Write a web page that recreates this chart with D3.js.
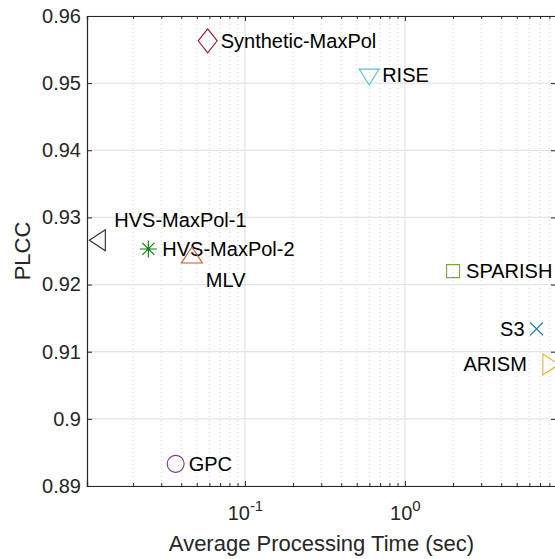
<!DOCTYPE html>
<html>
<head>
<meta charset="utf-8">
<script src="https://cdn.jsdelivr.net/npm/d3@7"></script>
<style>
  body { margin: 0; background: #fff; }
  svg { display: block; }
  text { font-family: "Liberation Sans", Arial, Helvetica, sans-serif; fill: #262626; }
</style>
</head>
<body>
<svg id="chart" width="555" height="559"></svg>
<script>
// data
var methods = ["Synthetic-MaxPol", "RISE", "SPARISH", "S3", "ARISM", "HVS-MaxPol-1", "HVS-MaxPol-2", "MLV", "GPC"];
var times = [0.0585, 0.598, 2.0, 6.65, 7.94, 0.0123, 0.0249, 0.0466, 0.0369];
var plcc = [0.9563, 0.9512, 0.9220, 0.9134, 0.9081, 0.9266, 0.9253, 0.9241, 0.8933];
var markers = ["diamond", "triangleDown", "square", "cross", "triangleRight", "triangleLeft", "asterisk", "triangleUp", "circle"];
var colors = ["#A2142F", "#4DBEEE", "#77AC30", "#0072BD", "#EDB120", "#262626", "#008000", "#D95319", "#7E2F8E"];

var yTicks = [0.89, 0.90, 0.91, 0.92, 0.93, 0.94, 0.95, 0.96];
var yTickLabels = ["0.89", "0.9", "0.91", "0.92", "0.93", "0.94", "0.95", "0.96"];
var xMajor = [0.1, 1];
var xMajorExp = ["-1", "0"];
var xMinor = [0.02, 0.03, 0.04, 0.05, 0.06, 0.07, 0.08, 0.09,
              0.2, 0.3, 0.4, 0.5, 0.6, 0.7, 0.8, 0.9,
              2, 3, 4, 5, 6, 7, 8];

// label placement (layout only)
var labelDx = [13, 13, 13, -12, -22, 15, 14, 14, 13];
var labelDy = [0, 0, 0, 0, 0, -20, 0, 23, 0];
var labelAnchor = ["start", "start", "start", "end", "end", "start", "start", "start", "start"];

var svg = d3.select("#chart"),
  pLeft = 87, pRight = 556, pTop = 16, pBottom = 486;

var x = d3.scaleLog().domain([0.0103, 8.8]).range([pLeft, pRight]);
var y = d3.scaleLinear().domain([0.89, 0.96]).range([pBottom, pTop]);

// grid
var grid = svg.append("g");
grid.selectAll(".minor").data(xMinor).enter().append("line")
  .attr("x1", function(d) { return x(d); }).attr("x2", function(d) { return x(d); })
  .attr("y1", pTop).attr("y2", pBottom)
  .attr("stroke", "#cfcfcf").attr("stroke-width", 0.8).attr("stroke-dasharray", "1,3");
grid.selectAll(".majx").data(xMajor).enter().append("line")
  .attr("x1", function(d) { return x(d); }).attr("x2", function(d) { return x(d); })
  .attr("y1", pTop).attr("y2", pBottom)
  .attr("stroke", "#e3e3e3").attr("stroke-width", 1.2);
grid.selectAll(".majy").data(yTicks).enter().append("line")
  .attr("x1", pLeft).attr("x2", pRight)
  .attr("y1", function(d) { return y(d); }).attr("y2", function(d) { return y(d); })
  .attr("stroke", "#e3e3e3").attr("stroke-width", 1.2);

// axes (ticks point inward like matlab)
var fontTick = 20;
var gx = svg.append("g").attr("transform", "translate(0," + pBottom + ")")
  .call(d3.axisBottom(x).tickValues(xMajor).tickSize(-5).tickFormat(""));
gx.selectAll(".tick").append("text")
  .attr("y", 34).attr("text-anchor", "middle").style("font-size", fontTick + "px")
  .each(function(d, i) {
    var t = d3.select(this);
    t.append("tspan").text("10");
    t.append("tspan").attr("dy", -9).style("font-size", "15px").text(xMajorExp[i]);
  });
svg.append("g").attr("transform", "translate(0," + pBottom + ")")
  .call(d3.axisBottom(x).tickValues(xMinor).tickSize(-3).tickFormat(""));
svg.append("g").attr("transform", "translate(0," + pTop + ")")
  .call(d3.axisTop(x).tickValues(xMajor).tickSize(-5).tickFormat(""));
svg.append("g").attr("transform", "translate(0," + pTop + ")")
  .call(d3.axisTop(x).tickValues(xMinor).tickSize(-3).tickFormat(""));

var gy = svg.append("g").attr("transform", "translate(" + pLeft + ",0)")
  .call(d3.axisLeft(y).tickValues(yTicks).tickSize(-5).tickPadding(6)
    .tickFormat(function(d, i) { return yTickLabels[i]; }));
gy.selectAll("text").style("font-size", fontTick + "px").attr("fill", "#262626");
svg.append("g").attr("transform", "translate(" + pRight + ",0)")
  .call(d3.axisRight(y).tickValues(yTicks).tickSize(-5).tickFormat(""));

svg.selectAll(".domain").attr("stroke", "#262626").attr("stroke-width", 1.2);
svg.selectAll(".tick line").attr("stroke", "#262626").attr("stroke-width", 1);

// axis titles
svg.append("text")
  .attr("x", (pLeft + pRight) / 2).attr("y", 551)
  .attr("text-anchor", "middle").style("font-size", "22px")
  .text("Average Processing Time (sec)");
svg.append("text")
  .attr("transform", "translate(30," + (pTop + pBottom) / 2 + ") rotate(-90)")
  .attr("text-anchor", "middle").style("font-size", "22px")
  .text("PLCC");

// marker shapes
function markerPath(type) {
  var p = d3.path();
  if (type == "diamond") { p.moveTo(0, -12); p.lineTo(9.5, 0); p.lineTo(0, 12); p.lineTo(-9.5, 0); p.closePath(); }
  else if (type == "triangleDown") { p.moveTo(-10, -6); p.lineTo(10, -6); p.lineTo(0, 10); p.closePath(); }
  else if (type == "triangleUp") { p.moveTo(-10.5, 6); p.lineTo(10.5, 6); p.lineTo(0, -10); p.closePath(); }
  else if (type == "triangleLeft") { p.moveTo(6, -10.5); p.lineTo(6, 10.5); p.lineTo(-10, 0); p.closePath(); }
  else if (type == "triangleRight") { p.moveTo(-6, -10.5); p.lineTo(-6, 10.5); p.lineTo(10, 0); p.closePath(); }
  else if (type == "square") { p.rect(-6.5, -6.5, 13, 13); }
  else if (type == "circle") { p.moveTo(8.5, 0); p.arc(0, 0, 8.5, 0, 2 * Math.PI); }
  else if (type == "cross") { p.moveTo(-6.5, -6.5); p.lineTo(6.5, 6.5); p.moveTo(6.5, -6.5); p.lineTo(-6.5, 6.5); }
  else if (type == "asterisk") {
    p.moveTo(-8.5, 0); p.lineTo(8.5, 0); p.moveTo(0, -8.5); p.lineTo(0, 8.5);
    p.moveTo(-6, -6); p.lineTo(6, 6); p.moveTo(6, -6); p.lineTo(-6, 6);
  }
  return p.toString();
}

var pts = svg.append("g").selectAll("g").data(methods).enter().append("g")
  .attr("transform", function(d, i) { return "translate(" + x(times[i]) + "," + y(plcc[i]) + ")"; });
pts.append("path")
  .attr("d", function(d, i) { return markerPath(markers[i]); })
  .attr("fill", "none")
  .attr("stroke", function(d, i) { return colors[i]; })
  .attr("stroke-width", 1.1);
pts.append("text")
  .attr("x", function(d, i) { return labelDx[i]; })
  .attr("y", function(d, i) { return labelDy[i]; })
  .attr("dy", "0.35em")
  .attr("text-anchor", function(d, i) { return labelAnchor[i]; })
  .style("font-size", "20px")
  .style("fill", "#000")
  .text(function(d) { return d; });
</script>
</body>
</html>
